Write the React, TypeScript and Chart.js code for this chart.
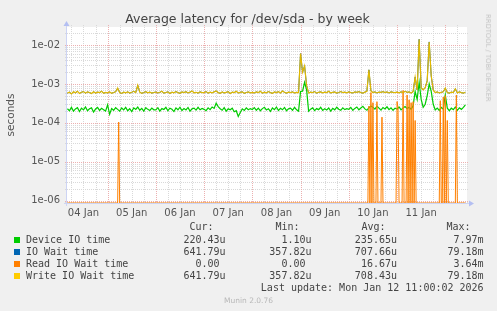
import React, { useEffect, useRef } from 'react';
import { Chart, registerables } from 'chart.js';

Chart.register(...registerables);

// ---- axis ranges / ticks (hours counted from 04 Jan 00:00) ----
const X_MIN = 3.8;
const X_MAX = 202.8;
const Y_MIN = 8.7e-7;
const Y_MAX = 0.029;
const FIRST_HOUR = 4; // hourly series start at 04 Jan 04:00

const xTickHours = [12, 36, 60, 84, 108, 132, 156, 180];
const xTickLabels = ['04 Jan', '05 Jan', '06 Jan', '07 Jan', '08 Jan', '09 Jan', '10 Jan', '11 Jan'];
const yTickValues = [1e-6, 1e-5, 1e-4, 1e-3, 1e-2];
const yTickLabels = ['1e-06', '1e-05', '1e-04', '1e-03', '1e-02'];
const yTitle = 'seconds';

// ---- series (microseconds), one value per hour ----
const deviceUs = [
  230, 205, 250, 200, 228, 245, 195, 238, 215, 255, 205, 230, 242, 190, 226, 248, 208, 236, 218, 200,
  290, 165, 232, 210, 245, 222, 200, 240, 215, 250, 205, 230, 195, 242, 220, 255, 210, 236, 200, 245, 222, 208, 240, 216,
  215, 245, 200, 232, 220, 250, 205, 238, 222, 195, 242, 216, 252, 208, 232, 214, 248, 200, 230, 238, 212, 250, 216, 234,
  222, 205, 242, 218, 255, 235, 320, 260, 230, 210, 245, 200, 230, 216, 238, 192, 205, 145, 185, 228, 208, 242, 216, 232,
  220, 245, 210, 238, 204, 232, 250, 214, 230, 196, 240, 218, 255, 208, 235, 216, 248, 205, 230, 238, 210, 250, 216, 200,
  640, 650, 1100, 700, 200, 225, 242, 205, 232, 218, 250, 208, 230, 214, 240, 200, 236, 216, 252, 224, 210, 242, 218, 232,
  222, 250, 210, 235, 255, 216, 240, 265, 228, 210, 245, 272, 250, 225, 268, 238, 212, 248, 228, 258, 218, 242, 210, 238,
  225, 255, 215, 242, 262, 232, 252, 224, 272, 640, 400, 1100, 400, 250, 300, 500, 1000, 640, 300, 215, 238, 208, 248, 225,
  520, 238, 205, 238, 218, 255, 210, 242, 222, 250, 290,
];

const writeUs = [
  580, 615, 555, 625, 590, 645, 570, 610, 635, 580, 620, 600, 565, 630, 585, 615, 598, 650, 575, 602,
  588, 620, 575, 602, 628, 780, 598, 570, 615, 588, 625, 580, 608, 645, 598, 920, 612, 575, 600, 630, 592, 615, 580, 602,
  618, 585, 608, 645, 580, 602, 625, 570, 612, 592, 635, 598, 575, 620, 600, 630, 586, 614, 655, 592, 608, 580, 625, 600,
  598, 635, 580, 612, 592, 625, 655, 598, 575, 618, 586, 608, 630, 570, 614, 598, 645, 586, 608, 625, 575, 600, 620, 592,
  608, 586, 625, 598, 645, 580, 614, 592, 635, 598, 575, 620, 600, 630, 586, 655, 608, 580, 614, 600, 625, 586, 608, 600,
  6000, 2000, 2900, 900, 586, 614, 600, 635, 580, 608, 625, 592, 614, 598, 645, 586, 608, 620, 580, 600, 635, 598, 614, 592,
  625, 598, 586, 620, 608, 635, 598, 580, 614, 645, 2300, 655, 598, 625, 586, 614, 608, 635, 598, 620, 586, 625, 608, 600,
  614, 592, 625, 598, 645, 608, 620, 586, 635, 1500, 700, 14000, 800, 700, 800, 1200, 12000, 1600, 700, 598, 620, 586, 608, 625,
  780, 598, 580, 614, 598, 750, 586, 625, 598, 580, 612,
];

// IO wait total is covered by the write line everywhere in the picture
const ioWaitUs = writeUs;

// read wait: sparse samples (hour, microseconds); 0 means no read wait
const readHours = [
  4, 29, 29.5, 30,
  153.5, 154, 154.5, 155, 155.5, 156, 156.5, 157.5, 158, 158.5, 160, 160.5, 161,
  167.5, 168, 168.5, 169, 170.5, 171, 171.5,
  172.5, 173, 173.5, 174, 174.5, 175, 175.5, 176, 176.5, 177, 177.5,
  189, 189.5, 190, 190.5, 191, 191.5, 192, 192.5, 193, 193.5,
  197, 197.5, 198, 202,
];
const readUs = [
  0, 0, 105, 0,
  0, 270, 0, 600, 0, 330, 0, 0, 350, 0, 0, 140, 0,
  0, 350, 240, 0, 0, 680, 0,
  0, 520, 0, 390, 0, 330, 0, 350, 0, 115, 0,
  0, 370, 0, 0, 460, 0, 500, 0, 115, 0,
  0, 520, 0, 0,
];

// ---- legend ----
const seriesNames = ['Device IO time', 'IO Wait time', 'Read IO Wait time', 'Write IO Wait time'];
const seriesColors = ['#00cc00', '#0066b3', '#ff8000', '#ffcc00'];
const curValues = ['220.43u', '641.79u', '0.00 ', '641.79u'];
const minValues = ['1.10u', '357.82u', '0.00 ', '357.82u'];
const avgValues = ['235.65u', '707.66u', '16.67u', '708.43u'];
const maxValues = ['7.97m', '79.18m', '3.64m', '79.18m'];
const columnHeads = ['Cur:', 'Min:', 'Avg:', 'Max:'];

const GRID = '#d9d9d9';
const MGRID = '#ecb0b0';
const AXIS = '#cdd4f4';
const ARROW = '#b4bff2';

const gridPlugin = {
  id: 'muninGrid',
  beforeDatasetsDraw(chart: any) {
    const { ctx, chartArea: a, scales } = chart;
    const xs = scales.x;
    const ys = scales.y;
    ctx.save();
    ctx.fillStyle = '#ffffff';
    ctx.fillRect(a.left, a.top, a.right - a.left, a.bottom - a.top);
    ctx.lineWidth = 1;
    ctx.setLineDash([1, 1]);
    const hLine = (v: number, color: string) => {
      const p = Math.round(ys.getPixelForValue(v)) + 0.5;
      ctx.strokeStyle = color;
      ctx.beginPath();
      ctx.moveTo(a.left - 2, p);
      ctx.lineTo(a.right + 2, p);
      ctx.stroke();
    };
    const vLine = (h: number, color: string) => {
      const p = Math.round(xs.getPixelForValue(h)) + 0.5;
      ctx.strokeStyle = color;
      ctx.beginPath();
      ctx.moveTo(p, a.top - 2);
      ctx.lineTo(p, a.bottom + 2);
      ctx.stroke();
    };
    for (let e = -7; e <= -1; e++) {
      for (let m = 2; m <= 9; m++) {
        const v = m * Math.pow(10, e);
        if (v > ys.min && v < ys.max) hLine(v, GRID);
      }
    }
    for (let h = Math.ceil(xs.min / 6) * 6; h <= xs.max; h += 6) if (h % 24 !== 0) vLine(h, GRID);
    for (let h = Math.ceil(xs.min / 24) * 24; h <= xs.max; h += 24) vLine(h, MGRID);
    yTickValues.forEach((v) => hLine(v, MGRID));

    ctx.setLineDash([]);
    ctx.strokeStyle = AXIS;
    ctx.beginPath();
    ctx.moveTo(a.left - 0.5, a.bottom + 3);
    ctx.lineTo(a.left - 0.5, a.top - 3);
    ctx.stroke();
    ctx.beginPath();
    ctx.moveTo(a.left - 3, a.bottom + 0.5);
    ctx.lineTo(a.right + 3, a.bottom + 0.5);
    ctx.stroke();
    ctx.fillStyle = ARROW;
    ctx.beginPath();
    ctx.moveTo(a.left - 3.5, a.top - 1);
    ctx.lineTo(a.left + 2.5, a.top - 1);
    ctx.lineTo(a.left - 0.5, a.top - 6);
    ctx.closePath();
    ctx.fill();
    ctx.beginPath();
    ctx.moveTo(a.right + 2, a.bottom - 2.5);
    ctx.lineTo(a.right + 2, a.bottom + 3.5);
    ctx.lineTo(a.right + 7, a.bottom + 0.5);
    ctx.closePath();
    ctx.fill();
    ctx.restore();
  },
};

const SANS = "'DejaVu Sans', sans-serif";
const MONO = "'DejaVu Sans Mono', monospace";
const colRights = [225.6, 311.5, 397.0, 483.6];
const headLefts = [189.5, 275.5, 361.5, 446.5];

export default function App() {
  const ref = useRef<HTMLCanvasElement>(null);

  useEffect(() => {
    const toPts = (us: number[]) => us.map((v, i) => ({ x: FIRST_HOUR + i, y: v * 1e-6 }));
    const readPts = readHours.map((h, i) => ({ x: h, y: readUs[i] === 0 ? Y_MIN : readUs[i] * 1e-6 }));
    const chart = new Chart(ref.current as HTMLCanvasElement, {
      type: 'line',
      data: {
        datasets: [
          { label: seriesNames[0], data: toPts(deviceUs), borderColor: '#00cc00', borderWidth: 1.2, order: 4 },
          { label: seriesNames[1], data: toPts(ioWaitUs), borderColor: seriesColors[1], order: 3 },
          { label: seriesNames[2], data: readPts, borderColor: seriesColors[2], order: 2 },
          { label: seriesNames[3], data: toPts(writeUs), borderColor: '#e2b900', borderWidth: 1.2, order: 1 },
        ],
      },
      options: {
        animation: false,
        responsive: false,
        devicePixelRatio: 1,
        elements: { point: { radius: 0 }, line: { borderWidth: 1, tension: 0, fill: false } },
        layout: { padding: { top: 27, right: 30, left: 0, bottom: 0 } },
        plugins: { legend: { display: false }, tooltip: { enabled: false }, title: { display: false } },
        scales: {
          x: {
            type: 'linear',
            min: X_MIN,
            max: X_MAX,
            grid: { display: false, drawTicks: false },
            border: { display: false },
            afterBuildTicks: (s: any) => {
              s.ticks = xTickHours.map((v) => ({ value: v }));
            },
            afterFit: (s: any) => {
              s.height = 108;
            },
            ticks: {
              autoSkip: false,
              maxRotation: 0,
              padding: 4,
              color: '#555555',
              font: { family: SANS, size: 10 },
              callback: (_v: any, i: number) => xTickLabels[i],
            },
          },
          y: {
            type: 'logarithmic',
            min: Y_MIN,
            max: Y_MAX,
            grid: { display: false, drawTicks: false },
            border: { display: false },
            title: {
              display: true,
              text: yTitle,
              color: '#555555',
              font: { family: SANS, size: 10.5 },
              padding: { top: 4.7, bottom: 0 },
            },
            afterBuildTicks: (s: any) => {
              s.ticks = yTickValues.map((v) => ({ value: v }));
            },
            afterFit: (s: any) => {
              s.width = 67;
            },
            ticks: {
              autoSkip: false,
              padding: 7,
              color: '#555555',
              font: { family: SANS, size: 10 },
              callback: (_v: any, i: number) => yTickLabels[i],
            },
          },
        },
      } as any,
      plugins: [gridPlugin],
    });
    return () => chart.destroy();
  }, []);

  const rowTop = (i: number) => 233.8 + 12 * i;

  return (
    <div style={{ position: 'fixed', left: 0, top: 0, width: 497, height: 311, background: '#f0f0f0', overflow: 'hidden' }}>
      <canvas ref={ref} width={497} height={311} style={{ position: 'absolute', left: 0, top: 0, width: 497, height: 311 }} />
      <div style={{ position: 'absolute', left: -1, top: 11, width: 497, textAlign: 'center', font: `12.5px ${SANS}`, lineHeight: '16px', color: '#444444', whiteSpace: 'nowrap' }}>
        Average latency for /dev/sda - by week
      </div>
      <div style={{ position: 'absolute', left: 487.5, top: 58, transform: 'translate(-50%, -50%) rotate(90deg)', font: `6.8px ${SANS}`, lineHeight: '8px', color: '#c4c4c4', whiteSpace: 'nowrap' }}>
        RRDTOOL / TOBI OETIKER
      </div>
      {columnHeads.map((h, c) => (
        <div key={h} style={{ position: 'absolute', left: headLefts[c], top: 220.5, font: `10px ${MONO}`, lineHeight: '12px', color: '#444444', whiteSpace: 'pre' }}>
          {h}
        </div>
      ))}
      {seriesNames.map((name, i) => (
        <React.Fragment key={name}>
          <div style={{ position: 'absolute', left: 14, top: rowTop(i) + 3.3, width: 6, height: 6, background: seriesColors[i] }} />
          <div style={{ position: 'absolute', left: 26, top: rowTop(i), font: `10px ${MONO}`, lineHeight: '12px', color: '#444444', whiteSpace: 'pre' }}>
            {name}
          </div>
          {[curValues[i], minValues[i], avgValues[i], maxValues[i]].map((v, c) => (
            <div key={c} style={{ position: 'absolute', right: 497 - colRights[c], top: rowTop(i), font: `10px ${MONO}`, lineHeight: '12px', color: '#444444', whiteSpace: 'pre', textAlign: 'right' }}>
              {v}
            </div>
          ))}
        </React.Fragment>
      ))}
      <div style={{ position: 'absolute', right: 497 - colRights[3], top: 281.8, font: `10px ${MONO}`, lineHeight: '12px', color: '#444444', whiteSpace: 'pre', textAlign: 'right' }}>
        Last update: Mon Jan 12 11:00:02 2026
      </div>
      <div style={{ position: 'absolute', left: 0, width: 497, top: 295.5, textAlign: 'center', font: `7.5px ${SANS}`, lineHeight: '10px', color: '#b8b8b8', whiteSpace: 'nowrap' }}>
        Munin 2.0.76
      </div>
    </div>
  );
}
